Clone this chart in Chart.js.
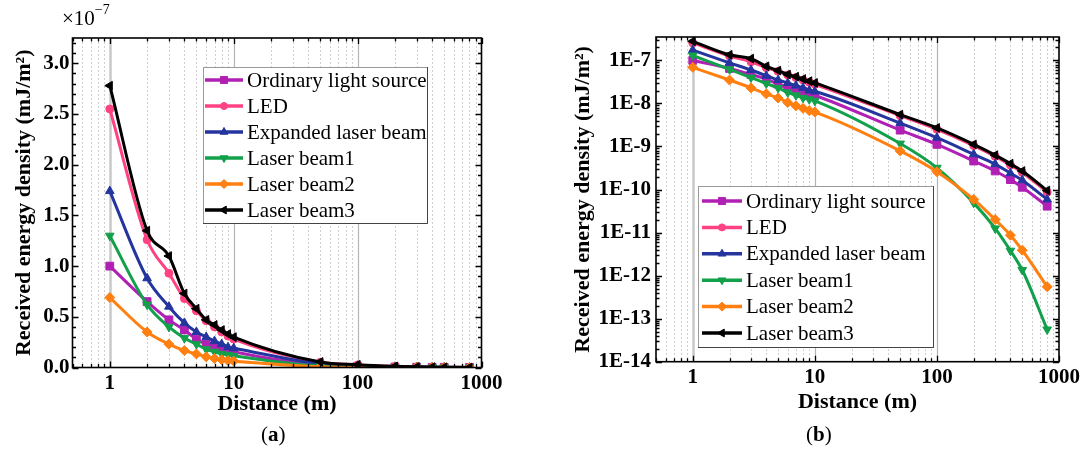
<!DOCTYPE html>
<html>
<head>
<meta charset="utf-8">
<script src="https://cdn.jsdelivr.net/npm/chart.js@4.4.0/dist/chart.umd.min.js"></script>
<style>
  body { margin: 0; background: #fff; width: 1083px; height: 454px; overflow: hidden; position: relative; font-family: "Liberation Serif", serif; color: #000; }
  canvas { position: absolute; top: 0; }
  #chartA { left: 0; }
  #chartB { left: 541px; }
  .exp { position: absolute; left: 62px; top: 6px; font-size: 21px; line-height: 1; }
  .exp sup { font-size: 14px; position: relative; top: -3px; }
  .cap { position: absolute; top: 424px; font-size: 21px; line-height: 1; }
</style>
</head>
<body>
<canvas id="chartA" width="541" height="454"></canvas>
<canvas id="chartB" width="542" height="454"></canvas>
<div class="exp">×10<sup>−7</sup></div>
<div class="cap" style="left:261px">(<b>a</b>)</div>
<div class="cap" style="left:806px">(<b>b</b>)</div>
<script>
// distance in m, received energy density in mJ/m^2
const distance = [1, 2, 3, 4, 5, 6, 7, 8, 9, 10, 50, 100, 200, 300, 400, 500, 800];
const ordinaryLight = [1.0e-7, 0.65e-7, 0.47e-7, 0.37e-7, 0.28e-7, 0.23e-7, 0.21e-7, 0.19e-7, 0.17e-7, 0.155e-7, 2.4e-9, 1.12e-9, 4.6e-10, 2.7e-10, 1.7e-10, 1.13e-10, 4.1e-11];
const led = [2.55e-7, 1.26e-7, 0.93e-7, 0.68e-7, 0.56e-7, 0.46e-7, 0.40e-7, 0.35e-7, 0.31e-7, 0.28e-7, 5.2e-9, 2.5e-9, 1.05e-9, 5.9e-10, 3.7e-10, 2.5e-10, 8.7e-11];
const expandedLaser = [1.74e-7, 0.88e-7, 0.60e-7, 0.44e-7, 0.35e-7, 0.30e-7, 0.26e-7, 0.23e-7, 0.20e-7, 0.19e-7, 3.5e-9, 1.6e-9, 6.6e-10, 3.9e-10, 2.4e-10, 1.65e-10, 5.9e-11];
const laserBeam1 = [1.30e-7, 0.62e-7, 0.40e-7, 0.29e-7, 0.23e-7, 0.18e-7, 0.155e-7, 0.135e-7, 0.125e-7, 0.115e-7, 1.17e-9, 3.2e-10, 4.9e-11, 1.25e-11, 3.8e-12, 1.35e-12, 5.6e-14];
const laserBeam2 = [0.69e-7, 0.35e-7, 0.23e-7, 0.167e-7, 0.134e-7, 0.105e-7, 0.088e-7, 0.077e-7, 0.068e-7, 0.063e-7, 7.9e-10, 2.6e-10, 5.9e-11, 2.0e-11, 8.7e-12, 3.9e-12, 5.5e-13];
const laserBeam3 = [2.78e-7, 1.35e-7, 1.10e-7, 0.73e-7, 0.58e-7, 0.47e-7, 0.42e-7, 0.37e-7, 0.33e-7, 0.30e-7, 5.5e-9, 2.7e-9, 1.12e-9, 6.3e-10, 4.0e-10, 2.7e-10, 9.5e-11];

const seriesNames = ["Ordinary light source", "LED", "Expanded laser beam", "Laser beam1", "Laser beam2", "Laser beam3"];
const seriesValues = [ordinaryLight, led, expandedLaser, laserBeam1, laserBeam2, laserBeam3];

// tick labels
const xTickLabels = [1, 10, 100, 1000];
const yTickLabelsA = ["0.0", "0.5", "1.0", "1.5", "2.0", "2.5", "3.0"]; // x1e-7
const yDecadesB = [-14, -13, -12, -11, -10, -9, -8, -7];

// styles
const seriesColors = ["#b020b4", "#ff4283", "#24359e", "#12a04a", "#ff7f10", "#000000"];
const seriesMarkers = [
  { style: "rect", rot: 0, r: 5.5 },
  { style: "circle", rot: 0, r: 4 },
  { style: "triangle", rot: 0, r: 5 },
  { style: "triangle", rot: 180, r: 5 },
  { style: "rectRot", rot: 0, r: 5 },
  { style: "triangle", rot: -90, r: 5 }
];
const FONT = "'Liberation Serif', 'Times New Roman', serif";

function isDecade(v) {
  const l = Math.log10(v);
  return Math.abs(l - Math.round(l)) < 1e-9;
}

function makeDatasets() {
  return seriesNames.map((name, i) => ({
    label: name,
    data: distance.map((d, j) => ({ x: d, y: seriesValues[i][j] })),
    borderColor: seriesColors[i],
    backgroundColor: seriesColors[i],
    pointBackgroundColor: seriesColors[i],
    pointBorderColor: seriesColors[i],
    pointStyle: seriesMarkers[i].style,
    pointRotation: seriesMarkers[i].rot,
    pointRadius: seriesMarkers[i].r,
    pointBorderWidth: 1,
    borderWidth: 3,
    borderJoinStyle: "round",
    cubicInterpolationMode: "monotone",
    order: seriesNames.length - i
  }));
}

// grid lines, inward tick marks, frame and legend
const decoPlugin = {
  id: "deco",
  beforeDatasetsDraw(chart) {
    const { ctx, chartArea: a } = chart;
    const xs = chart.scales.x;
    ctx.save();
    for (let d = -1; d <= 3; d++) {
      for (let k = 1; k <= 9; k++) {
        const v = k * Math.pow(10, d);
        if (v <= xs.min || v >= xs.max) continue;
        const px = Math.round(xs.getPixelForValue(v)) + 0.5;
        ctx.beginPath();
        if (k === 1) {
          ctx.strokeStyle = v === 1 ? "#c8c8c8" : "#b4b4b4";
          ctx.lineWidth = v === 1 ? 2.5 : 1.2;
          ctx.setLineDash([]);
        } else {
          ctx.strokeStyle = "#cfcfcf";
          ctx.lineWidth = 1;
          ctx.setLineDash([2, 2]);
        }
        ctx.moveTo(px, a.top);
        ctx.lineTo(px, a.bottom);
        ctx.stroke();
      }
    }
    ctx.restore();
  },
  afterDraw(chart) {
    const { ctx, chartArea: a } = chart;
    const xs = chart.scales.x, ys = chart.scales.y;
    const o = chart.options.plugins.deco;
    ctx.save();
    ctx.strokeStyle = "#000";
    ctx.lineWidth = 1.3;
    ctx.setLineDash([]);
    // x ticks, bottom and top
    for (let d = -1; d <= 3; d++) {
      for (let k = 1; k <= 9; k++) {
        const v = k * Math.pow(10, d);
        if (v < xs.min || v > xs.max) continue;
        const px = Math.round(xs.getPixelForValue(v)) + 0.5;
        const len = k === 1 ? 6 : 3.5;
        ctx.beginPath();
        ctx.moveTo(px, a.bottom); ctx.lineTo(px, a.bottom - len);
        ctx.moveTo(px, a.top); ctx.lineTo(px, a.top + len);
        ctx.stroke();
      }
    }
    // y ticks, left and right
    const yTicks = [];
    if (o.logY) {
      for (let d = -14; d <= -7; d++) {
        for (let k = 1; k <= 9; k++) {
          const v = k * Math.pow(10, d);
          if (v >= ys.min && v <= ys.max) yTicks.push([v, k === 1]);
        }
      }
    } else {
      for (let i = 0; i <= 32; i++) {
        const v = i * 0.1e-7;
        yTicks.push([v, i % 5 === 0]);
      }
    }
    yTicks.forEach(([v, major]) => {
      const py = Math.round(ys.getPixelForValue(v)) + 0.5;
      const len = major ? 6 : 3.5;
      ctx.beginPath();
      ctx.moveTo(a.left, py); ctx.lineTo(a.left + len, py);
      ctx.moveTo(a.right, py); ctx.lineTo(a.right - len, py);
      ctx.stroke();
    });
    // frame
    ctx.lineWidth = 1.6;
    ctx.strokeRect(a.left, a.top, a.right - a.left, a.bottom - a.top);

    // legend
    const L = o.legend;
    ctx.fillStyle = "#fff";
    ctx.fillRect(L.x, L.y, L.w, L.h);
    ctx.lineWidth = 1;
    ctx.strokeStyle = "#9a9a9a";
    ctx.strokeRect(L.x + 0.5, L.y + 0.5, L.w, L.h);
    ctx.strokeStyle = "#444";
    ctx.beginPath();
    ctx.moveTo(L.x + L.w + 0.5, L.y); ctx.lineTo(L.x + L.w + 0.5, L.y + L.h + 0.5);
    ctx.lineTo(L.x, L.y + L.h + 0.5);
    ctx.stroke();
    ctx.font = "21px " + FONT;
    ctx.textBaseline = "middle";
    chart.data.datasets.forEach((ds, i) => {
      const cy = L.rowY + i * L.rowH;
      ctx.strokeStyle = ds.borderColor;
      ctx.lineWidth = 3.5;
      ctx.beginPath();
      ctx.moveTo(L.sx, cy); ctx.lineTo(L.sx + L.sw, cy);
      ctx.stroke();
      ctx.fillStyle = ds.borderColor;
      ctx.lineWidth = 1;
      Chart.helpers.drawPoint(ctx, { pointStyle: ds.pointStyle, rotation: ds.pointRotation, radius: ds.pointRadius - 0.5, borderWidth: 1 }, L.sx + L.sw / 2, cy);
      ctx.fillStyle = "#000";
      ctx.fillText(ds.label, L.sx + L.sw + 4, cy + 1);
    });
    ctx.restore();
  }
};

function baseOptions(cfg) {
  return {
    responsive: false,
    animation: false,
    layout: { padding: { left: 0, top: cfg.top, right: cfg.right, bottom: 0 } },
    plugins: {
      legend: { display: false },
      tooltip: { enabled: false },
      deco: { logY: cfg.logY, legend: cfg.legend }
    },
    scales: {
      x: {
        type: "logarithmic",
        min: 0.5,
        max: 1000,
        grid: { display: false, drawTicks: false },
        border: { display: false },
        ticks: {
          autoSkip: false, maxRotation: 0, minRotation: 0, padding: 3, color: "#000",
          font: { family: FONT, size: 21, weight: "bold" },
          callback: v => (isDecade(v) && xTickLabels.includes(Math.round(v)) ? String(Math.round(v)) : "")
        },
        title: {
          display: true, text: "Distance (m)", color: "#000",
          font: { family: FONT, size: 22, weight: "bold" },
          padding: { top: 0, bottom: cfg.xTitlePad }
        },
        afterFit: s => { s.height = cfg.xHeight; }
      },
      y: Object.assign({
        grid: { display: false, drawTicks: false },
        border: { display: false },
        title: {
          display: true, text: "Received energy density (mJ/m²)", color: "#000",
          font: { family: FONT, size: 22, weight: "bold" },
          padding: { top: cfg.yTitlePad, bottom: 0 }
        },
        afterFit: s => { s.width = cfg.yWidth; }
      }, cfg.y)
    }
  };
}

new Chart(document.getElementById("chartA"), {
  type: "line",
  data: { datasets: makeDatasets() },
  options: baseOptions({
    top: 38, right: 59.5, xHeight: 86.5, yWidth: 72.5, xTitlePad: 36, yTitlePad: 11, logY: false,
    legend: { x: 203, y: 67, w: 224, h: 156, rowY: 80, rowH: 26, sx: 205, sw: 38 },
    y: {
      type: "linear", min: 0, max: 3.25e-7,
      ticks: {
        stepSize: 0.5e-7, autoSkip: false, padding: 3, color: "#000",
        font: { family: FONT, size: 21, weight: "bold" },
        callback: v => {
          const u = v / 0.5e-7;
          const idx = Math.round(u);
          return Math.abs(u - idx) < 1e-6 && yTickLabelsA[idx] ? yTickLabelsA[idx] : "";
        }
      }
    }
  }),
  plugins: [decoPlugin]
});

new Chart(document.getElementById("chartB"), {
  type: "line",
  data: { datasets: makeDatasets() },
  options: baseOptions({
    top: 37, right: 24, xHeight: 92.3, yWidth: 115, xTitlePad: 38, yTitlePad: 29, logY: true,
    legend: { x: 157, y: 186, w: 235, h: 161, rowY: 201, rowH: 26.4, sx: 161, sw: 40 },
    y: {
      type: "logarithmic", min: 1e-14, max: 3.5e-7,
      ticks: {
        autoSkip: false, padding: 5, color: "#000",
        font: { family: FONT, size: 21, weight: "bold" },
        callback: v => {
          if (!isDecade(v)) return "";
          const e = Math.round(Math.log10(v));
          return yDecadesB.includes(e) ? "1E" + e : "";
        }
      }
    }
  }),
  plugins: [decoPlugin]
});
</script>
</body>
</html>
